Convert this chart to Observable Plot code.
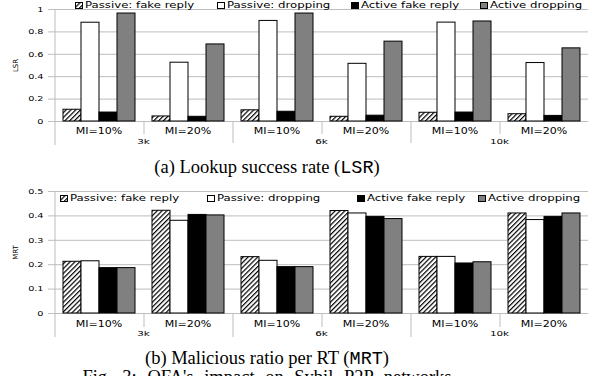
<!DOCTYPE html>
<html><head><meta charset="utf-8">
<script src="https://cdn.jsdelivr.net/npm/d3@7"></script>
<script src="https://cdn.jsdelivr.net/npm/@observablehq/plot@0.6"></script>
<style>
body{margin:0;background:#fff;}
#wrap{position:relative;width:592px;height:376px;overflow:hidden;background:#fff;}
.panel{position:absolute;left:0;}
.li{position:absolute;height:10px;display:flex;align-items:center;white-space:nowrap;font-family:"DejaVu Sans";font-size:8.5px;color:#000;}
.li svg{flex:none;}
.li span{display:inline-block;transform:scaleX(1.38);transform-origin:left center;margin-left:2px;}
.cap{position:absolute;left:0;width:534px;text-align:center;font-family:"Liberation Serif";font-size:18.5px;line-height:18.5px;white-space:nowrap;color:#000;}
.cap code{font-family:"Liberation Mono";font-size:18.5px;}
</style></head>
<body>
<svg width="0" height="0" style="position:absolute">
  <defs>
    <pattern id="hatch" patternUnits="userSpaceOnUse" width="3.4" height="3.4" patternTransform="rotate(45)">
      <rect width="3.4" height="3.4" fill="#fff"/>
      <line x1="0.6" y1="0" x2="0.6" y2="3.4" stroke="#000" stroke-width="1.2"/>
    </pattern>
  </defs>
</svg>
<div id="wrap"></div>
<script>
// ---- data ----
const sizes = ["3k", "6k", "10k"];
const mis = ["MI=10%", "MI=20%"];
const series = ["Passive: fake reply", "Passive: dropping", "Active fake reply", "Active dropping"];
// group order: 3k/10%, 3k/20%, 6k/10%, 6k/20%, 10k/10%, 10k/20%
const lsrPassiveFake = [0.105, 0.045, 0.10, 0.042, 0.078, 0.065];
const lsrPassiveDrop = [0.882, 0.525, 0.898, 0.515, 0.883, 0.522];
const lsrActiveFake  = [0.080, 0.042, 0.087, 0.052, 0.080, 0.050];
const lsrActiveDrop  = [0.964, 0.688, 0.964, 0.713, 0.893, 0.653];
const mrtPassiveFake = [0.212, 0.421, 0.231, 0.420, 0.232, 0.410];
const mrtPassiveDrop = [0.214, 0.380, 0.216, 0.410, 0.232, 0.383];
const mrtActiveFake  = [0.186, 0.404, 0.190, 0.396, 0.205, 0.396];
const mrtActiveDrop  = [0.186, 0.402, 0.190, 0.387, 0.210, 0.410];
const lsrTicks = [0, 0.2, 0.4, 0.6, 0.8, 1];
const mrtTicks = [0, 0.1, 0.2, 0.3, 0.4, 0.5];

const groups = sizes.flatMap(s => mis.map(m => ({key: s + " " + m, size: s, mi: m})));
function table(arrs) {
  return groups.flatMap((g, i) => series.map((s, j) => ({key: g.key, size: g.size, mi: g.mi, series: s, value: arrs[j][i]})));
}
const lsrRows = table([lsrPassiveFake, lsrPassiveDrop, lsrActiveFake, lsrActiveDrop]);
const mrtRows = table([mrtPassiveFake, mrtPassiveDrop, mrtActiveFake, mrtActiveDrop]);

const fills = ["url(#hatch)", "#fff", "#000", "#808080"];
const GRID = "#bdbdbd";
const K = 1.38;

function stretch(svg, k) {
  svg.querySelectorAll("text").forEach(t => {
    const tr = t.getAttribute("transform") || "";
    if (/rotate/.test(tr)) return;
    let base = tr;
    if (!tr) {
      const x = +t.getAttribute("x") || 0, y = +t.getAttribute("y") || 0;
      t.removeAttribute("x"); t.removeAttribute("y");
      base = `translate(${x},${y})`;
    }
    t.setAttribute("transform", base + ` scale(${k},1)`);
  });
}

function panel({rows, ticks, label, height, marginTop, marginBottom, miDy, sizeDy, axisExt, longExt, shortExt}) {
  const W = 592, ml = 52, mr = 2, po = 0.46;
  const fw = (W - ml - mr) / groups.length;
  const step = fw / (series.length + 2 * po);
  const edge = -(po + 0.5) * step;
  const first = () => series[0];
  const svg = Plot.plot({
    width: W, height, marginLeft: ml, marginRight: mr, marginTop, marginBottom,
    style: {fontFamily: "DejaVu Sans", fontSize: "7px", color: "#000", background: "transparent", overflow: "visible"},
    fx: {domain: groups.map(g => g.key), padding: 0, axis: null, label: null},
    x: {domain: series, paddingInner: 0, paddingOuter: po, axis: null},
    y: {domain: [ticks[0], ticks[ticks.length - 1]], axis: null},
    color: {type: "ordinal", domain: series, range: fills},
    marks: [
      Plot.gridY(ticks, {stroke: GRID, strokeOpacity: 1, strokeWidth: 1}),
      Plot.axisY(ticks, {tickSize: 6, tickPadding: 5, stroke: GRID, fill: "#000", fontSize: 7,
        tickFormat: d => String(d), label, labelAnchor: "center", labelOffset: 41, labelArrow: "none"}),
      Plot.ruleX(groups.slice(0, 1), {fx: "key", x: first, dx: edge, y1: ticks[ticks.length - 1], y2: 0, insetBottom: -axisExt, stroke: GRID}),
      Plot.ruleX(groups.slice(1).filter(g => g.mi === mis[0]), {fx: "key", x: first, dx: edge, y1: 0, y2: 0, insetBottom: -longExt, stroke: GRID}),
      Plot.ruleX(groups.filter(g => g.mi === mis[1]), {fx: "key", x: first, dx: edge, y1: 0, y2: 0, insetBottom: -shortExt, stroke: GRID}),
      Plot.barY(rows, {fx: "key", x: "series", y: "value", fill: "series", stroke: "#000", strokeWidth: 1}),
      Plot.text(groups, {fx: "key", text: "mi", frameAnchor: "bottom", textAnchor: "middle", lineAnchor: "middle", dy: miDy, fontSize: 8}),
      Plot.text(groups.filter(g => g.mi === mis[0]), {fx: "key", text: "size", frameAnchor: "bottom-right", textAnchor: "middle", lineAnchor: "middle", dy: sizeDy, fontSize: 7.5})
    ]
  });
  stretch(svg, K);
  return svg;
}

function legend(wrap, top, lefts) {
  series.forEach((s, i) => {
    const d = document.createElement("div");
    d.className = "li";
    d.style.left = lefts[i] + "px";
    d.style.top = top + "px";
    d.innerHTML = `<svg width="8" height="7"><rect x="0.5" y="0.5" width="7" height="6" fill="${fills[i]}" stroke="#000" stroke-width="1"/></svg><span></span>`;
    d.querySelector("span").textContent = s;
    wrap.appendChild(d);
  });
}

const wrap = document.getElementById("wrap");
const a = panel({rows: lsrRows, ticks: lsrTicks, label: "LSR", height: 150, marginTop: 9, marginBottom: 29, miDy: 10, sizeDy: 20, axisExt: 24, longExt: 22, shortExt: 13});
a.classList.add("panel"); a.style.top = "0px";
wrap.appendChild(a);
const b = panel({rows: mrtRows, ticks: mrtTicks, label: "MRT", height: 160, marginTop: 11, marginBottom: 27, miDy: 11, sizeDy: 20, axisExt: 24, longExt: 24, shortExt: 14});
b.classList.add("panel"); b.style.top = "180px";
wrap.appendChild(b);

legend(wrap, 0, [75, 217, 351, 480]);
legend(wrap, 193, [60, 207, 357, 478]);

const capA = document.createElement("div");
capA.className = "cap"; capA.style.top = "158px";
capA.innerHTML = "(a) Lookup success rate (<code>LSR</code>)";
wrap.appendChild(capA);
const capB = document.createElement("div");
capB.className = "cap"; capB.style.top = "349px";
capB.innerHTML = "(b) Malicious ratio per RT (<code>MRT</code>)";
wrap.appendChild(capB);
const capF = document.createElement("div");
capF.className = "cap"; capF.style.top = "368px"; capF.style.wordSpacing = "6px";
capF.textContent = "Fig. 3:  OFA's impact on Sybil P2P networks";
wrap.appendChild(capF);
</script>
</body></html>
